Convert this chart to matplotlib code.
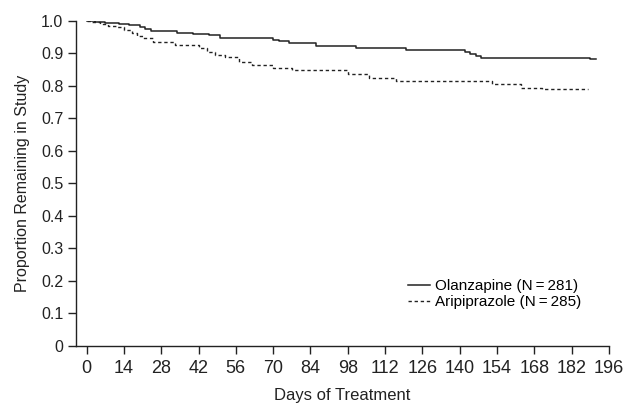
import matplotlib
matplotlib.use('Agg')
import matplotlib.pyplot as plt
import numpy as np

plt.rcParams['font.family'] = ['Liberation Sans', 'DejaVu Sans']

# Kaplan-Meier style retention curves
olz_days = [0, 3, 7, 12, 16, 20, 22, 24, 34, 40, 46, 50, 70, 72, 76, 86,
            101, 120, 142, 144, 146, 148, 189, 191]
olz_prop = [1.0, 0.997, 0.993, 0.99, 0.986, 0.982, 0.975, 0.969, 0.963, 0.96,
            0.955, 0.948, 0.942, 0.938, 0.932, 0.922, 0.917, 0.91, 0.905,
            0.898, 0.892, 0.887, 0.884, 0.884]

ari_days = [0, 2, 5, 8, 11, 14, 17, 19, 21, 25, 33, 42, 45, 48, 52, 57, 62,
            70, 77, 98, 106, 116, 152, 163, 171, 188]
ari_prop = [1.0, 0.995, 0.99, 0.985, 0.98, 0.972, 0.962, 0.952, 0.946, 0.936,
            0.926, 0.918, 0.905, 0.895, 0.888, 0.875, 0.865, 0.855, 0.848,
            0.838, 0.825, 0.815, 0.806, 0.795, 0.79, 0.79]

labels = ['Olanzapine (N\u2009=\u2009281)', 'Aripiprazole (N\u2009=\u2009285)']
x_ticks = list(range(0, 197, 14))
y_ticks = [round(v * 0.1, 1) for v in range(11)]
y_tick_labels = ['0'] + ['%.1f' % v for v in y_ticks[1:]]

fig = plt.figure(figsize=(6.3, 4.09), dpi=100)
ax = fig.add_axes([0.1206, 0.154, 0.846, 0.795])

ax.step(olz_days, olz_prop, where='post', color='#222222', lw=1.1, label=labels[0])
ax.step(ari_days, ari_prop, where='post', color='#222222', lw=1.0,
        linestyle=(0, (2.4, 2.0)), label=labels[1])

ax.set_xlim(-4, 196)
ax.set_ylim(0, 1.0)
ax.set_xticks(x_ticks)
ax.set_yticks(y_ticks)
ax.set_yticklabels(y_tick_labels)
ax.tick_params(length=6, width=1, colors='#222222')
ax.tick_params(axis='x', labelsize=13, pad=4)
ax.tick_params(axis='y', labelsize=11.5, pad=3)

for side in ['top', 'right']:
    ax.spines[side].set_visible(False)
for side in ['left', 'bottom']:
    ax.spines[side].set_color('#222222')
    ax.spines[side].set_linewidth(1)

ax.set_xlabel('Days of Treatment', fontsize=12, color='#222222', labelpad=8)
ax.set_ylabel('Proportion Remaining in Study', fontsize=11.5, color='#222222', labelpad=8)

ax.legend(loc='upper left', bbox_to_anchor=(0.612, 0.225), frameon=False,
          fontsize=11, handlelength=1.4, handletextpad=0.35, labelspacing=0.15,
          borderaxespad=0)

fig.savefig('out.png', dpi=100)
